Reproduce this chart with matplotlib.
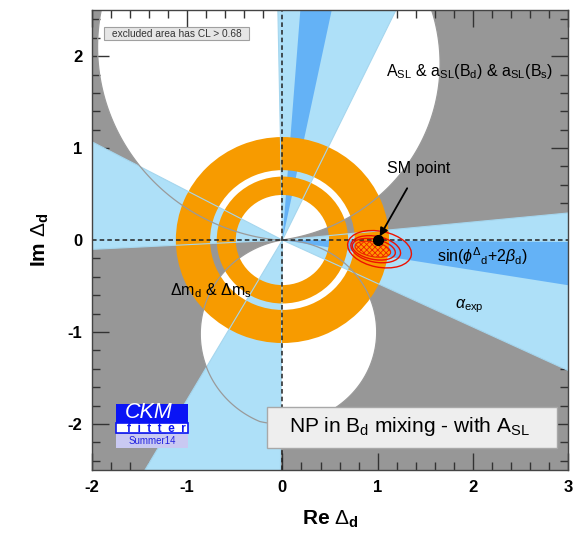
import numpy as np
import matplotlib.pyplot as plt
from matplotlib.patches import Polygon, Wedge, Ellipse, Rectangle
from matplotlib.ticker import MultipleLocator

plt.rcParams['font.family'] = ['Liberation Sans', 'DejaVu Sans']
plt.rcParams['mathtext.fontset'] = 'custom'
plt.rcParams['mathtext.rm'] = 'Liberation Sans'
plt.rcParams['mathtext.it'] = 'Liberation Sans:italic'
plt.rcParams['mathtext.bf'] = 'Liberation Sans:bold'
plt.rcParams['axes.unicode_minus'] = False
plt.rcParams['hatch.linewidth'] = 0.6

# plane ranges
x_range = (-2, 3)
y_range = (-2.5, 2.5)

# A_SL excluded lenses: two circles through the origin each (cx, cy, r)
lens_up = [(0.17, 2.10, 2.112), (-0.284, 1.92, 1.94)]
lens_dn = [(0.174, -1.022, 1.037), (-0.01, -1.0, 1.0)]

# alpha_exp wedges, degrees
alpha_wedges = [(64.5, 91.1), (151.9, 182.9), (-120.0, -90.5), (-25.3, 5.6)]
# sin(phi + 2 beta) wedges, degrees
beta_wedges = [(78.3, 85.7), (-9.3, -0.4)]
# dm_d & dm_s annuli (r_in, r_out)
rings = [(0.49, 0.69), (0.76, 1.12)]

# global fit: filled 68% region and outer contours (cx, cy, w, h, angle)
fit_fill = (0.95, -0.10, 0.38, 0.16, -12)
fit_lines = [(0.96, -0.10, 0.46, 0.22, -12),
             (0.98, -0.10, 0.53, 0.28, -12),
             (1.02, -0.10, 0.68, 0.39, -12)]
sm_point = (1.0, 0.0)

GRAY = '#979797'
LBLUE = '#aee0f8'
DBLUE = '#64b2f6'
ORANGE = '#f79b00'


def lens(c1, c2, n=3000):
    pts = []
    for (ax_, ay_, ar), (bx, by, br) in [(c1, c2), (c2, c1)]:
        t = np.linspace(0, 2 * np.pi, n)
        x = ax_ + ar * np.cos(t)
        y = ay_ + ar * np.sin(t)
        keep = (x - bx) ** 2 + (y - by) ** 2 <= br ** 2 + 1e-9
        pts.append(np.c_[x[keep], y[keep]])
    pts = np.vstack(pts)
    c = pts.mean(axis=0)
    order = np.argsort(np.arctan2(pts[:, 1] - c[1], pts[:, 0] - c[0]))
    return pts[order]


fig = plt.figure(figsize=(5.79, 5.34), dpi=100)
ax = fig.add_axes([0.159, 0.120, 0.822, 0.861])
ax.set_facecolor(GRAY)
ax.set_xlim(*x_range)
ax.set_ylim(*y_range)

# excluded by A_SL
for c1, c2 in (lens_up, lens_dn):
    pts = lens(c1, c2)
    ax.add_patch(Polygon(pts, closed=True, facecolor='white', edgecolor='none', zorder=1))
    ax.add_patch(Polygon(pts, closed=True, fill=False, edgecolor='#9a9a9a', lw=0.9, zorder=6))

# alpha
for a0, a1 in alpha_wedges:
    ax.add_patch(Wedge((0, 0), 6, a0, a1, facecolor=LBLUE, edgecolor='none', zorder=2))
# sin(phi + 2 beta)
for a0, a1 in beta_wedges:
    ax.add_patch(Wedge((0, 0), 6, a0, a1, facecolor=DBLUE, edgecolor='none', zorder=3))

# dm_d & dm_s
for r0, r1 in rings:
    ax.add_patch(Wedge((0, 0), r1, 0, 360, width=r1 - r0, facecolor=ORANGE,
                       edgecolor='none', zorder=4))

# wedge borders on top of the rings
for a0, a1 in alpha_wedges:
    for a in (a0, a1):
        t = np.radians(a)
        ax.plot([0, 6 * np.cos(t)], [0, 6 * np.sin(t)], color='#a5d6ee', lw=0.8, zorder=5)

# global fit
cx, cy, w, h, ang = fit_fill
ax.add_patch(Ellipse((cx, cy), w, h, angle=ang, facecolor='#ff9a00', edgecolor='#ee2200',
                     hatch='xxxxxx', lw=0.8, zorder=8))
for cx, cy, w, h, ang in fit_lines:
    ax.add_patch(Ellipse((cx, cy), w, h, angle=ang, fill=False, edgecolor='#ee1100',
                         lw=1.0, zorder=8))

# axes through the origin
ax.axhline(0, color='#222222', lw=1.1, ls=(0, (3, 2)), zorder=7)
ax.axvline(0, color='#222222', lw=1.1, ls=(0, (3, 2)), zorder=7)

ax.plot(*sm_point, 'o', color='black', ms=7, zorder=9)
ax.annotate('SM point', xy=sm_point, xytext=(1.43, 0.78), ha='center', va='center',
            fontsize=11.5, zorder=10,
            arrowprops=dict(arrowstyle='-|>', color='black', lw=1.3, shrinkA=8, shrinkB=3,
                            mutation_scale=12))

ax.text(1.97, 1.83, r'A$_{\rm SL}$ & a$_{\rm SL}$(B$_{\rm d}$) & a$_{\rm SL}$(B$_{\rm s}$)',
        ha='center', va='center', fontsize=11.5, zorder=10)
ax.text(2.1, -0.18, r'sin($\phi^{\Delta}{}_{\rm d}$+2$\beta_{\rm d}$)', ha='center',
        va='center', fontsize=11.5, zorder=10)
ax.text(1.96, -0.72, r'$\alpha_{\rm exp}$', ha='center', va='center', fontsize=11.5, zorder=10)
ax.text(-0.75, -0.55, r'$\Delta$m$_{\rm d}$ & $\Delta$m$_{\rm s}$', ha='center', va='center',
        fontsize=11.5, zorder=10)

# CL note
ax.add_patch(Rectangle((-1.87, 2.175), 1.52, 0.14, facecolor='#e6e6e6', edgecolor='#a0a0a0',
                       lw=0.8, zorder=10))
ax.text(-1.11, 2.245, 'excluded area has CL > 0.68', ha='center', va='center', fontsize=7.3,
        color='#333333', zorder=11)

# title box
ax.add_patch(Rectangle((-0.16, -2.26), 3.04, 0.44, facecolor='#eeeeee', edgecolor='#a8a8a8',
                       lw=1, zorder=10))
ax.text(1.33, -2.03, r'NP in B$_{\rm d}$ mixing - with A$_{\rm SL}$', ha='center',
        va='center', fontsize=15, zorder=11)

# CKMfitter logo
ax.add_patch(Rectangle((-1.75, -1.99), 0.76, 0.21, facecolor='#0a14f5', edgecolor='none',
                       zorder=10))
ax.add_patch(Rectangle((-1.75, -2.10), 0.76, 0.11, facecolor='white', edgecolor='#0a14f5',
                       lw=1.2, zorder=10))
ax.add_patch(Rectangle((-1.75, -2.26), 0.76, 0.15, facecolor='#c9c9f2', edgecolor='none',
                       zorder=10))
ax.text(-1.40, -1.88, 'CKM', ha='center', va='center', fontsize=15.5, style='italic',
        color='white', zorder=11)
ax.text(-1.02, -2.05, 'f  i  t  t  e  r', ha='right', va='center', fontsize=8.5,
        fontweight='bold', color='#0a14f5', zorder=11)
ax.text(-1.37, -2.185, 'Summer14', ha='center', va='center', fontsize=7, color='#2020e0',
        zorder=11)

ax.xaxis.set_major_locator(MultipleLocator(1))
ax.yaxis.set_major_locator(MultipleLocator(1))
ax.xaxis.set_minor_locator(MultipleLocator(0.2))
ax.yaxis.set_minor_locator(MultipleLocator(0.2))
ax.tick_params(which='both', direction='in', top=True, right=True, colors='#333333',
               labelcolor='black', width=1)
ax.tick_params(which='major', length=12, labelsize=12, pad=7)
ax.tick_params(which='minor', length=6)
for lab in ax.get_xticklabels() + ax.get_yticklabels():
    lab.set_fontweight('bold')
for s in ax.spines.values():
    s.set_color('#444444')
    s.set_linewidth(1)
    s.set_zorder(12)

ax.set_xlabel(r'Re $\Delta_{\mathbf{d}}$', fontsize=15, fontweight='bold', labelpad=10)
ax.set_ylabel(r'Im $\Delta_{\mathbf{d}}$', fontsize=15, fontweight='bold', labelpad=12)

fig.savefig('out.png', dpi=100)
